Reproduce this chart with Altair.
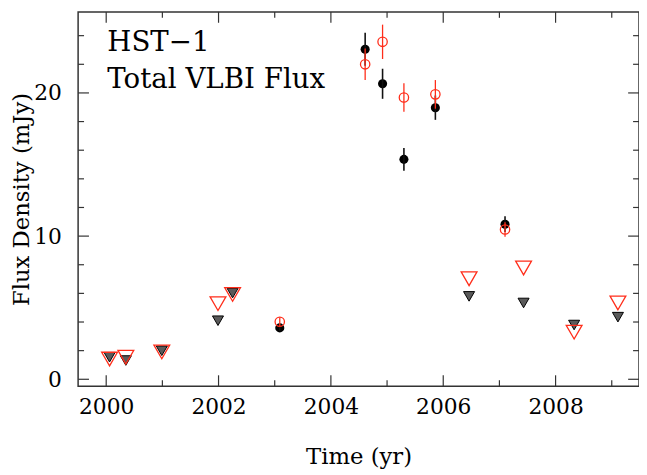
import altair as alt
import pandas as pd

# ---- data ----
det_t = [2003.09, 2004.61, 2004.92, 2005.30, 2005.86, 2007.10]
black_f = [3.59, 23.05, 20.64, 15.36, 18.97, 10.83]
black_e = [0.2, 1.15, 1.05, 0.8, 0.85, 0.55]
red_f = [4.02, 22.0, 23.57, 19.68, 19.9, 10.46]
red_e = [0.3, 1.1, 1.2, 1.0, 1.0, 0.5]

lim_t = [2000.06, 2000.35, 2000.99, 2001.99, 2002.25, 2006.46, 2007.43, 2008.33, 2009.11]
black_lim = [1.54, 1.31, 1.99, 4.09, 6.02, 5.79, 5.33, 3.79, 4.34]
red_lim = [1.41, 1.54, 1.91, 5.28, 5.93, 7.02, 7.77, 3.29, 5.33]

x_major = [2000, 2002, 2004, 2006, 2008]
x_minor = [2001, 2003, 2005, 2007, 2009]
y_major = [0, 10, 20]
y_minor = [2, 4, 6, 8, 12, 14, 16, 18, 22, 24]

notes = ["HST\u22121", "Total VLBI Flux"]
note_x = [2000.02, 2000.02]
note_y = [22.9, 20.34]

RED = "#ff2d1a"
FONT = "DejaVu Serif"
W, H = 568, 379

xs = alt.Scale(domain=[1999.5, 2009.485], nice=False, zero=False)
ys = alt.Scale(domain=[-0.48, 25.66], nice=False, zero=False)

xaxis = alt.Axis(values=x_major, format="d", ticks=False, tickSize=0, domain=False, grid=False,
                 title="Time (yr)", labelPadding=11, titlePadding=28)
yaxis = alt.Axis(values=y_major, format="d", ticks=False, tickSize=0, domain=False, grid=False,
                 title="Flux Density (mJy)", labelPadding=17, titlePadding=0)


def X(f):
    return alt.X(f, scale=xs, axis=xaxis)


def Y(f):
    return alt.Y(f, scale=ys, axis=yaxis)


blk = pd.DataFrame({"t": det_t, "f": black_f, "e": black_e})
red = pd.DataFrame({"t": det_t, "f": red_f, "e": red_e})
blim = pd.DataFrame({"t": lim_t, "f": black_lim})
rlim = pd.DataFrame({"t": lim_t, "f": red_lim})


def errbars(df, color, width):
    return alt.Chart(df).transform_calculate(
        lo="datum.f - datum.e", hi="datum.f + datum.e"
    ).mark_rule(color=color, strokeWidth=width).encode(
        x=X("t:Q"), y=Y("lo:Q"), y2="hi:Q",
    )


blk_err = errbars(blk, "#111111", 1.6)
blk_pts = alt.Chart(blk).mark_point(shape="circle", filled=True, color="black", size=85, opacity=1).encode(
    x=X("t:Q"), y=Y("f:Q"))
blk_lim = alt.Chart(blim).mark_point(shape="triangle-down", filled=True, fill="#5a5a5a",
                                     stroke="black", strokeWidth=1, size=125, opacity=1).encode(
    x=X("t:Q"), y=Y("f:Q"))
red_err = errbars(red, RED, 1.3)
red_pts = alt.Chart(red).mark_point(shape="circle", filled=False, color=RED, size=90, strokeWidth=1.3,
                                    opacity=1).encode(x=X("t:Q"), y=Y("f:Q"))
red_lim_l = alt.Chart(rlim).mark_point(shape="triangle-down", filled=False, color=RED, size=256,
                                       strokeWidth=1.3, opacity=1).encode(x=X("t:Q"), y=Y("f:Q"))


def xticks(vals, length):
    d = pd.DataFrame({"v": vals})
    bottom = alt.Chart(d).mark_rule(color="#333333", strokeWidth=1.2).encode(
        x=X("v:Q"), y=alt.value(H), y2=alt.value(H - length))
    top = alt.Chart(d).mark_rule(color="#333333", strokeWidth=1.2).encode(
        x=X("v:Q"), y=alt.value(0), y2=alt.value(length))
    return [bottom, top]


def yticks(vals, length):
    d = pd.DataFrame({"v": vals})
    left = alt.Chart(d).mark_rule(color="#333333", strokeWidth=1.2).encode(
        y=Y("v:Q"), x=alt.value(0), x2=alt.value(length))
    right = alt.Chart(d).mark_rule(color="#333333", strokeWidth=1.2).encode(
        y=Y("v:Q"), x=alt.value(W), x2=alt.value(W - length))
    return [left, right]


ticks = xticks(x_major, 11) + xticks(x_minor, 6) + yticks(y_major, 11) + yticks(y_minor, 6)

text = alt.Chart(pd.DataFrame({"label": notes, "x": note_x, "y": note_y})).mark_text(
    align="left", baseline="alphabetic", font=FONT, fontSize=28, color="black"
).encode(x=X("x:Q"), y=Y("y:Q"), text="label:N")

chart = alt.layer(
    blk_pts, *ticks, blk_err, blk_lim, red_err, red_pts, red_lim_l, text
).properties(
    width=W, height=H,
    autosize=alt.AutoSizeParams(type="none"),
    padding={"left": 71, "top": 1, "right": 0, "bottom": 85},
).configure_view(
    stroke="#333333", strokeWidth=1.5
).configure_axis(
    labelFont=FONT, labelFontSize=22, labelColor="black",
    titleFont=FONT, titleFontSize=23, titleFontWeight="normal", titleColor="black",
)

chart.save("out.html", embed_options={"renderer": "svg", "actions": False})
